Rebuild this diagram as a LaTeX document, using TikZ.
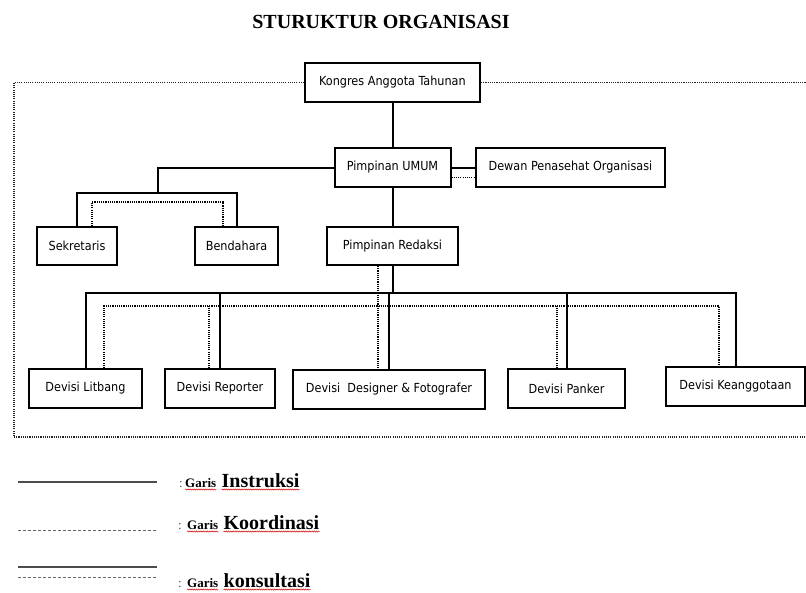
\documentclass[tikz,border=0pt]{standalone}
\usepackage{fontspec}
\setmainfont{Liberation Serif}
\newfontfamily\kotakfont{DejaVu Sans Condensed}
\usetikzlibrary{positioning,calc,decorations.pathmorphing}

\begin{document}
\begin{tikzpicture}[
		x=1pt, y=-1pt,
		unit/.style={draw, line width=2pt, inner sep=0pt, minimum height=39pt,
			font=\kotakfont\fontsize{12.5}{14}\selectfont},
		instruksi/.style={line width=2pt},
		koordinasi/.style={line width=1.8pt, dash pattern=on 1.1pt off 1.1pt},
		titik2/.style={anchor=base west, inner sep=0pt, text=black!70, font=\fontsize{13}{15}\selectfont},
		kecil/.style={inner sep=0pt, font=\bfseries\fontsize{13}{15}\selectfont},
		besar/.style={inner sep=0pt, font=\bfseries\fontsize{20}{23}\selectfont},
		salah/.style={red!85!black, line width=0.5pt, decorate,
			decoration={snake, amplitude=0.6pt, segment length=2.2pt}},
	]
	\useasboundingbox (0,0) rectangle (806,592);

	\node[anchor=base, font=\fontsize{20}{24}\selectfont\bfseries] (judul) at (381,28) {STURUKTUR ORGANISASI};

	% boxes
	\node[unit, minimum width=175pt] (kongres) at (392.5,82.5) {Kongres Anggota Tahunan};
	\node[unit, minimum width=116pt] (umum) at (392.5,167.5) {Pimpinan UMUM};
	\node[unit, minimum width=189pt] (dewan) at (570.5,167.5) {Dewan Penasehat Organisasi};
	\node[unit, minimum width=80pt, minimum height=38pt] (sekretaris) at (77,246) {Sekretaris};
	\node[unit, minimum width=83pt, minimum height=38pt] (bendahara) at (236.5,246) {Bendahara};
	\node[unit, minimum width=131pt, minimum height=38pt] (redaksi) at (392.5,246) {Pimpinan Redaksi};
	\node[unit, minimum width=113pt] (litbang) at (85.5,388.5) {Devisi Litbang};
	\node[unit, minimum width=110pt] (reporter) at (220,388.5) {Devisi Reporter};
	\node[unit, minimum width=192pt] (designer) at (389,389.5) {Devisi\ \ Designer \& Fotografer};
	\node[unit, minimum width=117pt] (panker) at (566.5,388.5) {Devisi Panker};
	\node[unit, minimum width=139pt] (keanggotaan) at (735.5,386.5) {Devisi Keanggotaan};

	\coordinate (cabang) at (158,193);
	\coordinate (bus) at (392.5,293);
	\coordinate (busdot) at (378,306);
	\coordinate (pojok) at (14,437);
	\coordinate (kanan) at (806,437);

	% garis instruksi
	\draw[instruksi] (kongres) -- (umum);
	\draw[instruksi] (umum) -- (redaksi);
	\draw[instruksi] (umum.west) -| (cabang);
	\draw[instruksi] (sekretaris.north) |- (cabang) -| (bendahara.north);
	\draw[instruksi] (umum.east) -- (dewan.west);
	\draw[instruksi] (redaksi.south) -- (bus);
	\draw[instruksi] (litbang.north) |- (bus) -| (keanggotaan.north);
	\foreach \d in {reporter,designer,panker}
		\draw[instruksi] (\d.north) -- (\d.north |- bus);

	% garis koordinasi
	\draw[koordinasi] ([xshift=15pt]sekretaris.north) -- ++(0,-24) -| ([xshift=-13.5pt]bendahara.north);
	\draw[koordinasi] ([xshift=-14.5pt]redaksi.south) -- ([xshift=-11pt]designer.north);
	\draw[koordinasi] ([xshift=18.5pt]litbang.north) |- (busdot) -| ([xshift=-16.5pt]keanggotaan.north);
	\foreach \d/\s in {reporter/-11pt,panker/-9.5pt}{
		\path ([xshift=\s]\d.north) coordinate (t);
		\draw[koordinasi] (t) -- (t |- busdot);
	}
	\draw[koordinasi] ([yshift=-10pt]umum.east) -- ([yshift=-10pt]dewan.west);

	% outer frame
	\draw[koordinasi, black!85] (kongres.west) -| (pojok) -- (kanan);
	\draw[koordinasi, black!85] (kongres.east) -- (kongres.east -| kanan);

	% legend
	\draw[black!70, line width=1.3pt] (18,482) -- (157,482);
	\draw[black!60, line width=0.9pt, dash pattern=on 3pt off 2pt] (18,530) -- (157,530);
	\draw[black!70, line width=1.3pt] (18,567) -- (157,567);
	\draw[black!60, line width=0.9pt, dash pattern=on 3pt off 2pt] (18,577) -- (157,577);

	\node[titik2] (ttk1) at (179,487) {:};
	\node[kecil, base right=2pt of ttk1] (garis1) {Garis};
	\node[besar, base right=5pt of garis1] (ket1) {Instruksi};
	\node[titik2] (ttk2) at (178,529) {:};
	\node[kecil, base right=5pt of ttk2] (garis2) {Garis};
	\node[besar, base right=5pt of garis2] (ket2) {Koordinasi};
	\node[titik2] (ttk3) at (178,587) {:};
	\node[kecil, base right=5pt of ttk3] (garis3) {Garis};
	\node[besar, base right=5pt of garis3] (ket3) {konsultasi};

	\foreach \w in {garis1,ket1,garis2,ket2,garis3,ket3}
		\draw[salah] ([yshift=-2.5pt]\w.base west) -- ([yshift=-2.5pt]\w.base east);

\end{tikzpicture}
\end{document}
